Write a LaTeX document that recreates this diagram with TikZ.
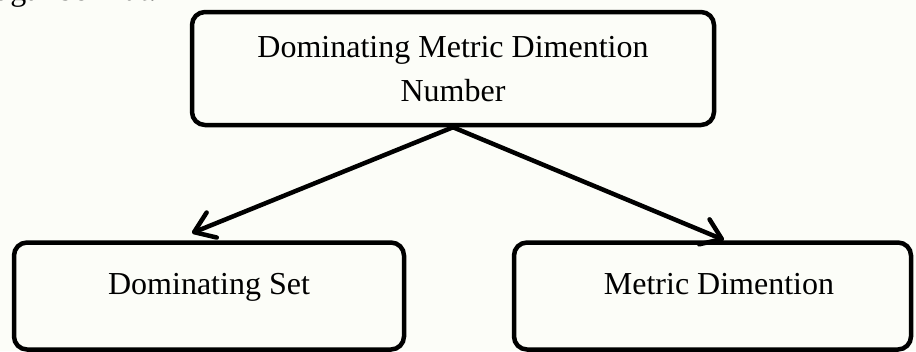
\documentclass[tikz,border=0pt]{standalone}
\usepackage{fontspec}
\setmainfont{Liberation Serif}
\usetikzlibrary{arrows.meta}
\definecolor{paper}{HTML}{FCFDF8}
\begin{document}
\begin{tikzpicture}[x=1pt,y=-1pt,
  box/.style={draw=black, line width=4.5pt, rounded corners=13pt, inner sep=0pt},
  lbl/.style={font=\fontsize{32}{45}\selectfont, inner sep=0pt, anchor=base},
  arr/.style={line width=4.5pt, line cap=round,
    -{Straight Barb[length=19pt,width=27pt,round]}}]
% page
\fill[paper] (0,0) rectangle (916,351);
\useasboundingbox (0,0) rectangle (916,351);
\begin{scope}
\clip (0,0) rectangle (916,351);
% tail of the preceding sentence
\node[lbl, anchor=base west] (prev) at (-4,0) {agai berikut:};

% boxes
\node[box, minimum width=522pt, minimum height=113pt] (top) at (453,68.5) {};
\node[box, minimum width=390pt, minimum height=107pt] (ds) at (209,296) {};
\node[box, minimum width=397pt, minimum height=107pt] (md) at (712.5,296) {};

% labels
\node[lbl] (topA) at (453,57) {Dominating Metric Dimention};
\node[lbl] (topB) at (453,101) {Number};
\node[lbl] (dsA) at (209,294) {Dominating Set};
\node[lbl] (mdA) at (719,294) {Metric Dimention};

% arrow ends
\coordinate (dsIn) at (192,233);
\coordinate (mdIn) at (724,240);
\draw[arr] (top.south) -- (dsIn);
\draw[arr] (top.south) -- (mdIn);
\end{scope}
\end{tikzpicture}
\end{document}
